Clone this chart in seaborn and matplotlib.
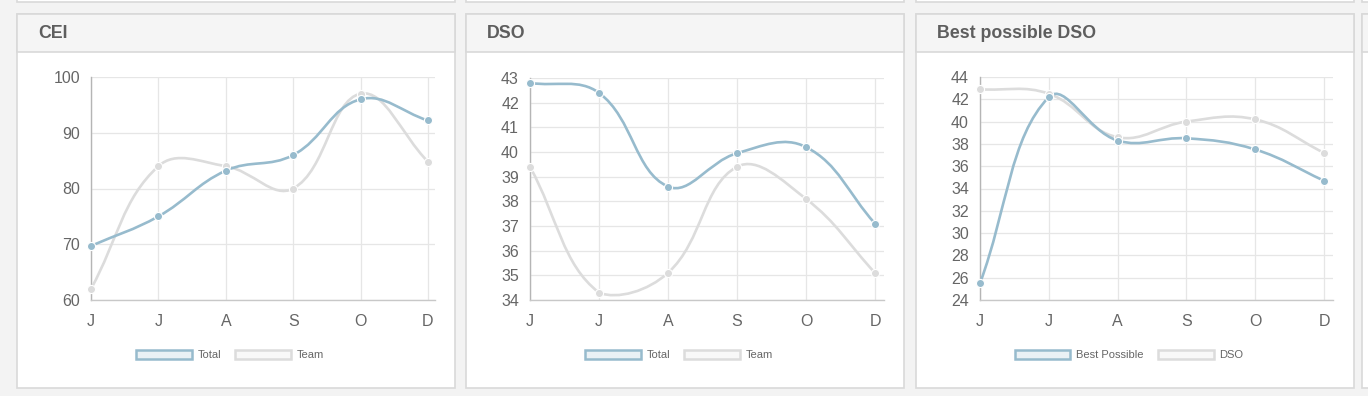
import numpy as np
import pandas as pd
import seaborn as sns
import matplotlib.pyplot as plt
from matplotlib.path import Path
from matplotlib.patches import PathPatch, Rectangle, Patch

months = ['J', 'J', 'A', 'S', 'O', 'D']

# CEI card
cei_total = [69.7, 75.0, 83.2, 86.0, 96.0, 92.2]
cei_team = [62.0, 84.0, 84.0, 80.0, 97.0, 84.8]
cei_ticks = [60, 70, 80, 90, 100]

# DSO card
dso_total = [42.8, 42.4, 38.6, 39.95, 40.2, 37.1]
dso_team = [39.4, 34.3, 35.1, 39.4, 38.1, 35.1]
dso_ticks = list(range(34, 44))

# Best possible DSO card
best_possible = [25.5, 42.2, 38.3, 38.5, 37.5, 34.7]
best_dso = [42.9, 42.5, 38.6, 40.0, 40.2, 37.2]
best_ticks = list(range(24, 45, 2))

BLUE = '#97bbcd'
GREY = '#dcdcdc'
BLUE_FILL = '#eaf1f5'
GREY_FILL = '#f8f8f8'
GRID = '#e6e6e6'
TXT = '#666666'

sns.set_style('white')
plt.rcParams['font.family'] = ['Liberation Sans', 'DejaVu Sans']

W, H = 1368, 396
fig = plt.figure(figsize=(W / 100, H / 100), dpi=100, facecolor='#f3f3f3')


def fx(x):
    return x / W


def fy(y):
    return 1 - y / H


def card(x0, x1, y0, y1, header=True):
    fig.patches.append(Rectangle((fx(x0), fy(y1)), fx(x1 - x0), (y1 - y0) / H,
                                 transform=fig.transFigure, facecolor='white',
                                 edgecolor='#d9d9d9', lw=1.2, zorder=-2))
    if header:
        fig.patches.append(Rectangle((fx(x0), fy(52)), fx(x1 - x0), (52 - y0) / H,
                                     transform=fig.transFigure, facecolor='#f5f5f5',
                                     edgecolor='#d9d9d9', lw=1.2, zorder=-2))


def smooth_path(ax, xs, ys, t=0.4):
    # bezier curve like chart.js, control points computed in pixel space
    pts = ax.transData.transform(np.column_stack([xs, ys]))
    n = len(pts)
    inner, outer = [], []
    for i in range(n):
        p0 = pts[max(i - 1, 0)]
        p1 = pts[i]
        p2 = pts[min(i + 1, n - 1)]
        d01 = np.hypot(*(p1 - p0))
        d12 = np.hypot(*(p2 - p1))
        fa = t * d01 / (d01 + d12)
        fb = t * d12 / (d01 + d12)
        inner.append(p1 - fa * (p2 - p0))
        outer.append(p1 + fb * (p2 - p0))
    verts = [pts[0]]
    codes = [Path.MOVETO]
    for i in range(n - 1):
        verts += [outer[i], inner[i + 1], pts[i + 1]]
        codes += [Path.CURVE4] * 3
    verts = ax.transData.inverted().transform(np.array(verts))
    lo, hi = ax.get_ylim()
    verts[:, 1] = np.clip(verts[:, 1], lo, hi)
    return Path(verts, codes)


panels = [
    dict(title='CEI', cx=(17, 455), box=(91, 435, 77, 300), dpos=428,
         ticks=cei_ticks, series=[('Total', cei_total, BLUE, BLUE_FILL),
                                  ('Team', cei_team, GREY, GREY_FILL)]),
    dict(title='DSO', cx=(466, 904), box=(530, 884, 78, 300), dpos=875,
         ticks=dso_ticks, series=[('Total', dso_total, BLUE, BLUE_FILL),
                                  ('Team', dso_team, GREY, GREY_FILL)]),
    dict(title='Best possible DSO', cx=(916, 1354), box=(980, 1333, 77, 300), dpos=1324,
         ticks=best_ticks, series=[('Best Possible', best_possible, BLUE, BLUE_FILL),
                                   ('DSO', best_dso, GREY, GREY_FILL)]),
]

# cards of the row above and the clipped card on the right
for x0, x1 in [(17, 455), (466, 904), (916, 1354)]:
    card(x0, x1, -30, 2, header=False)
card(1362, 1400, -30, 2, header=False)
card(1362, 1400, 14, 388)

for p in panels:
    x0, x1 = p['cx']
    card(x0, x1, 14, 388)
    fig.text(fx(x0 + 21), fy(33), p['title'], fontsize=12.8, color='#5e5e5e',
             fontweight='bold', va='center', ha='left')

    l, r, t, b = p['box']
    ax = fig.add_axes([fx(l), fy(b), fx(r - l), (b - t) / H])
    ax.set_zorder(2)
    ax.set_facecolor('none')
    xmax = 5 * (r - l) / (p['dpos'] - l)
    ax.set_xlim(0, xmax)
    ax.set_ylim(p['ticks'][0], p['ticks'][-1])
    ax.set_xticks(range(6))
    ax.set_xticklabels(months)
    ax.set_yticks(p['ticks'])
    ax.grid(True, color=GRID, lw=0.9)
    ax.set_axisbelow(True)
    for s in ['top', 'right']:
        ax.spines[s].set_visible(False)
    ax.spines['left'].set_color('#b5b5b5')
    ax.spines['bottom'].set_color('#c8c8c8')
    ax.spines['left'].set_linewidth(1)
    ax.spines['bottom'].set_linewidth(1)
    ax.tick_params(axis='both', length=6, color=GRID, width=0.9,
                   labelsize=11.5, labelcolor=TXT, pad=2)
    ax.tick_params(axis='x', pad=4)

    for label, vals, col, fill in reversed(p['series']):
        df = pd.DataFrame({'pos': np.arange(len(vals)), 'value': vals})
        ax.add_patch(PathPatch(smooth_path(ax, df['pos'], df['value']),
                               fill=False, edgecolor=col, lw=1.9, zorder=3,
                               clip_on=False))
        sns.scatterplot(data=df, x='pos', y='value', ax=ax, color=col, s=34,
                        edgecolor='white', linewidth=0.8, zorder=4,
                        legend=False, clip_on=False)
    ax.set_xlabel('')
    ax.set_ylabel('')

    handles = [Patch(facecolor=fill, edgecolor=col, lw=1.8, label=label)
               for label, vals, col, fill in p['series']]
    fig.legend(handles=handles, loc='center', ncol=2,
               bbox_to_anchor=(fx((x0 + x1) / 2 - 6), fy(355)), frameon=False,
               fontsize=8, labelcolor=TXT, handlelength=5.0, handleheight=0.85,
               handletextpad=0.5, columnspacing=1.3)

fig.savefig('out.png', dpi=100, facecolor=fig.get_facecolor())
